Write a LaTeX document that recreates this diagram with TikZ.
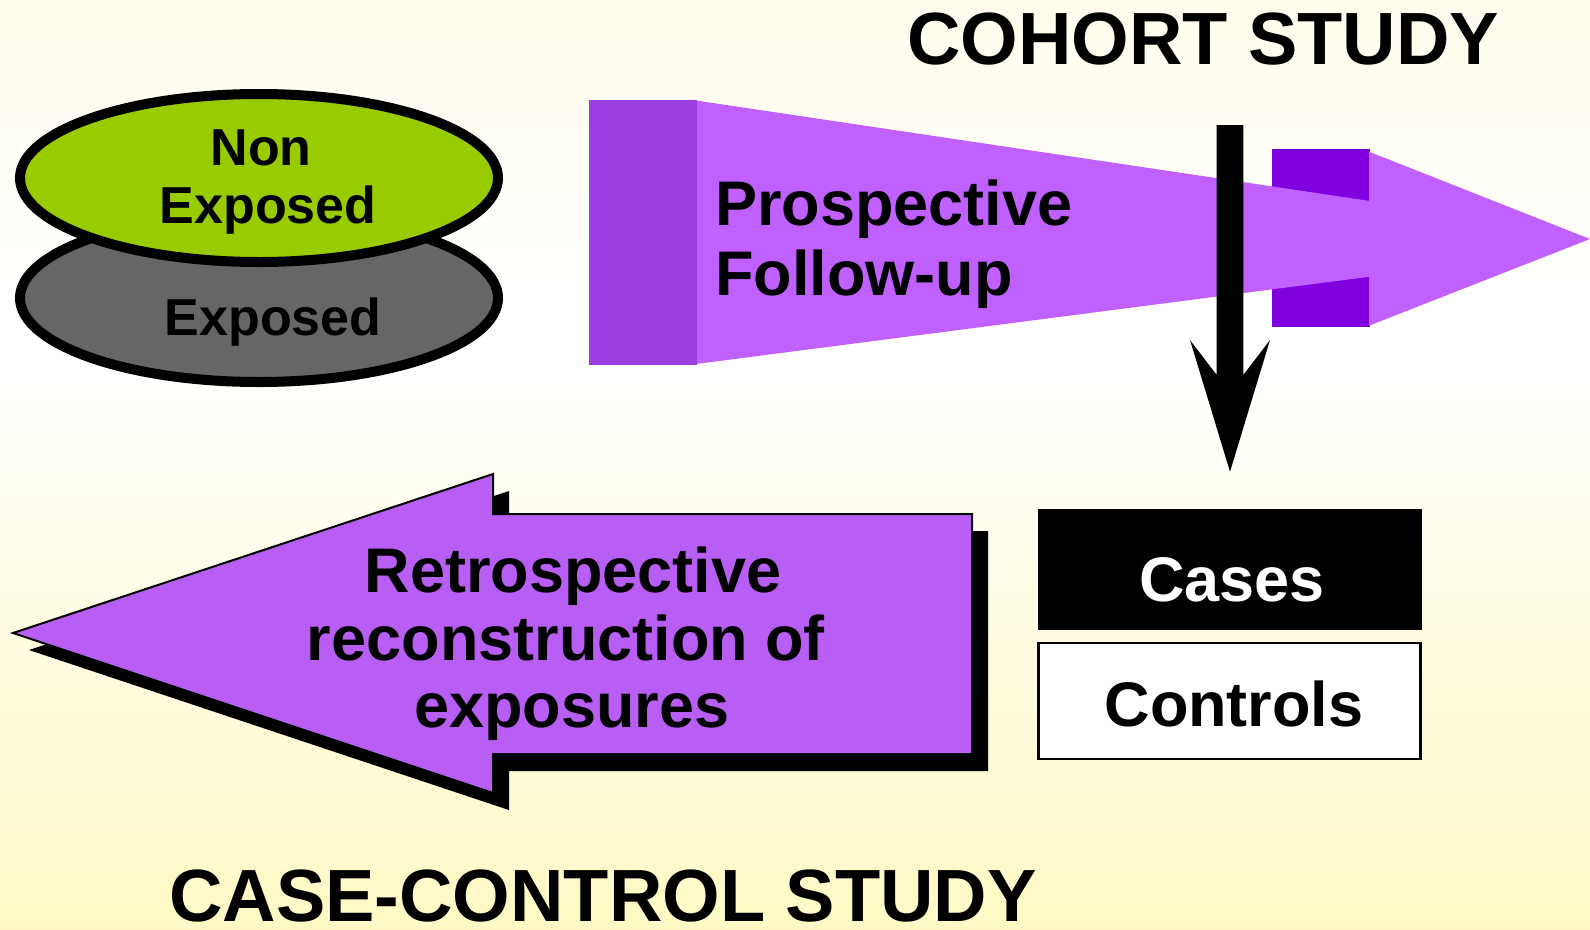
\documentclass[tikz,border=0pt]{standalone}
\usepackage{fontspec}
\setmainfont{Liberation Sans}
\usetikzlibrary{shapes.geometric}
\definecolor{bgtop}{RGB}{255,248,208}
\definecolor{bgmid}{RGB}{255,255,254}
\definecolor{bgbot}{RGB}{255,243,148}
\definecolor{limegreen}{RGB}{153,204,0}
\definecolor{graybody}{RGB}{102,102,102}
\definecolor{purplelight}{RGB}{191,96,255}
\definecolor{purpledark}{RGB}{155,63,224}
\definecolor{purpledeep}{RGB}{128,0,224}
\definecolor{retropurple}{RGB}{185,94,245}
\pgfdeclareverticalshading{bgshade}{100bp}{color(0bp)=(bgbot); color(55bp)=(bgmid); color(59bp)=(bgmid); color(100bp)=(bgtop)}
\tikzset{
  ovalbox/.style={ellipse, draw=black, line width=10pt, minimum width=478pt, minimum height=168pt, inner sep=0pt},
  ovaltxt/.style={font=\bfseries\fontsize{52}{60}\selectfont, inner sep=0pt, anchor=base},
  bigtxt/.style={font=\bfseries\fontsize{63}{70}\selectfont, inner sep=0pt, anchor=base},
  titletxt/.style={font=\bfseries\fontsize{74}{80}\selectfont, inner sep=0pt, anchor=base},
  casebox/.style={rectangle, draw=black, fill=black, line width=2pt, minimum width=382pt, minimum height=119pt, inner sep=0pt},
  ctrlbox/.style={rectangle, draw=black, fill=white, line width=2.5pt, minimum width=382pt, minimum height=116pt, inner sep=0pt}
}
\begin{document}
\begin{tikzpicture}[x=1pt,y=-1pt]
\useasboundingbox (0,0) rectangle (1590,929);
\shade[shading=bgshade] (0,0) rectangle (1590,929);

% exposure groups
\node[ovalbox, fill=graybody] (exposed) at (259,298) {};
\node[ovalbox, fill=limegreen] (nonexposed) at (259,178) {};
\node[ovaltxt] (nonlbl) at (261,165) {Non};
\node[ovaltxt] (nonlbl2) at (268,223) {Exposed};
\node[ovaltxt] (explbl) at (273,335) {Exposed};

% cohort (prospective) arrow
\fill[purpledeep] (1272,149) rectangle (1370,202);
\fill[purpledeep] (1272,276) rectangle (1370,327);
\fill[purplelight] (696,100.5) -- (1370,201) -- (1370,276.7) -- (696,364) -- cycle;
\fill[purplelight] (1369,151.7) -- (1590,239) -- (1369,325.7) -- cycle;
\fill[purpledark] (589,100) rectangle (697,365);
\node[bigtxt, anchor=base west] (pro1) at (715,225) {Prospective};
\node[bigtxt, anchor=base west] (pro2) at (715,295) {Follow-up};

% downward block arrow
\coordinate (dtip) at (1230,471.7);
\fill[black] (1216.7,125) -- (1243.3,125) -- (1243.3,375) -- (1270,340) -- (dtip)
  -- (1190,340) -- (1216.7,375) -- cycle;

% cases and controls
\node[casebox] (cases) at (1229.5,569) {};
\node[ctrlbox] (controls) at (1229.5,701) {};
\node[bigtxt, text=white] (caseslbl) at (1232,601) {Cases};
\node[bigtxt] (ctrllbl) at (1234,726) {Controls};

% retrospective arrow with shadow
\fill[black, shift={(16,17)}] (13,633) -- (493,474) -- (493,514) -- (972,514) -- (972,754)
  -- (493,754) -- (493,793) -- cycle;
\filldraw[fill=retropurple, draw=black, line width=2pt] (13,633) -- (493,474) -- (493,514) -- (972,514) -- (972,754)
  -- (493,754) -- (493,793) -- cycle;
\node[bigtxt] (retro1) at (573,592) {Retrospective};
\node[bigtxt] (retro2) at (566,660) {reconstruction of};
\node[bigtxt] (retro3) at (572,727) {exposures};

% titles
\node[titletxt] (cohort) at (1203,64) {COHORT STUDY};
\node[titletxt] (casecontrol) at (603,921) {CASE-CONTROL STUDY};
\end{tikzpicture}
\end{document}
